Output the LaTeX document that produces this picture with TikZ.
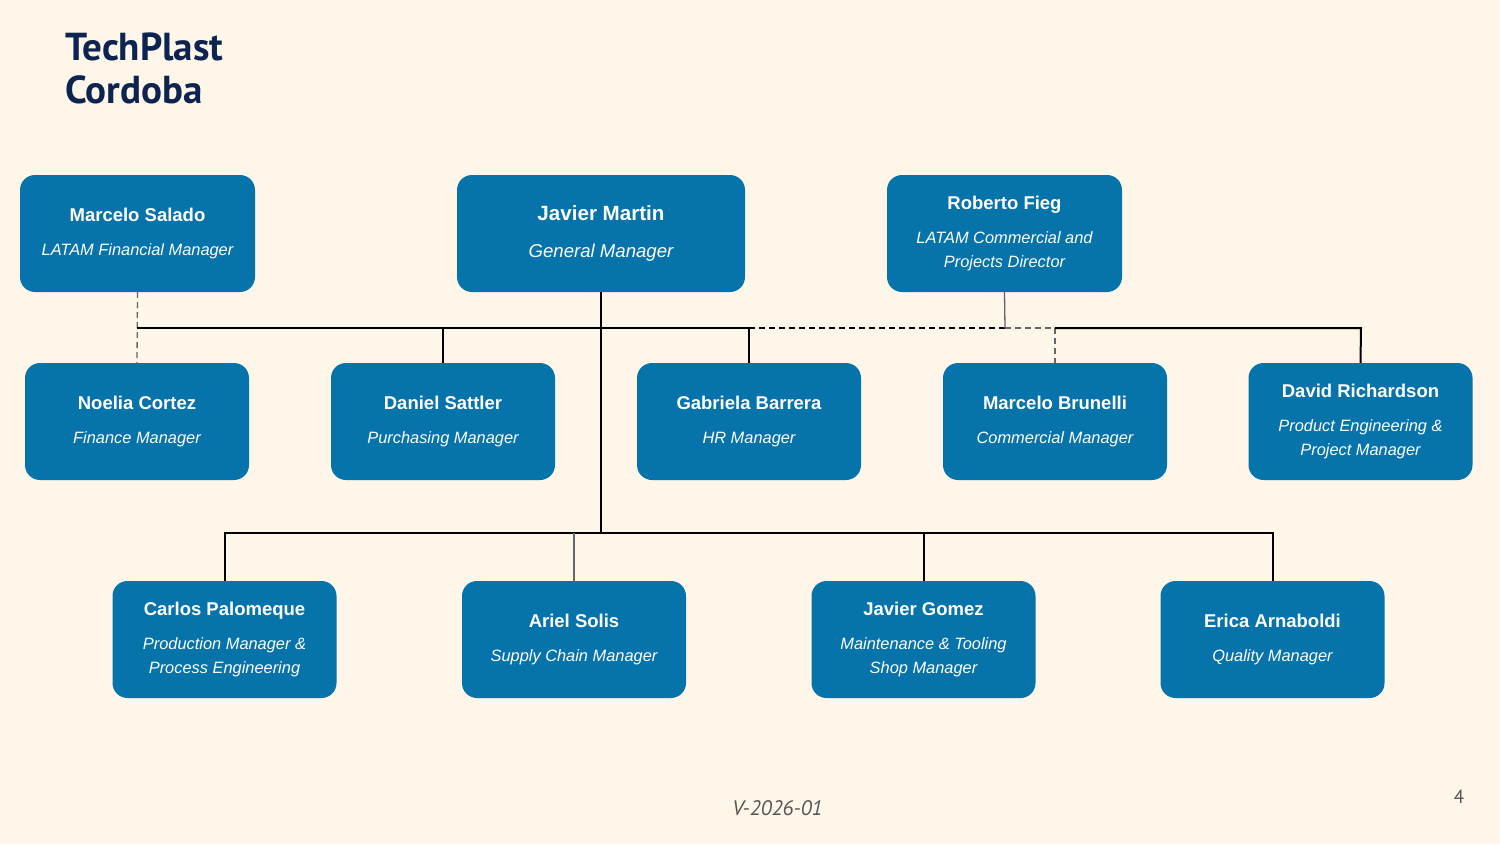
\documentclass[tikz,border=0pt]{standalone}
\usepackage{fontspec}
\setmainfont{Liberation Sans}
\newfontfamily\titlefont{PT Sans}
\definecolor{bgc}{HTML}{FDF6E9}
\definecolor{boxc}{HTML}{0673AA}
\definecolor{navy}{HTML}{0D2350}
\definecolor{footc}{HTML}{555555}
\definecolor{linegray}{HTML}{666666}
\tikzset{
  person/.style={draw=none, fill=boxc, rounded corners=15pt, inner sep=0pt,
    minimum width=224pt, minimum height=117pt, text=white, align=center,
    font=\fontsize{16.4}{24}\selectfont},
  bigperson/.style={person, minimum width=288pt, font=\fontsize{18.6}{24}\selectfont},
  solidline/.style={draw=black, line width=2pt},
  grayline/.style={draw=linegray, line width=1.3pt},
  dashline/.style={draw=black, line width=1.8pt, dash pattern=on 6pt off 4pt},
  graydash/.style={draw=linegray, line width=1.3pt, dash pattern=on 6pt off 4pt},
}
\newcommand{\nm}[1]{{\fontsize{18.5}{24}\selectfont\bfseries #1}}
\newcommand{\bignm}[1]{{\fontsize{20.6}{24}\selectfont\bfseries #1}}
\newcommand{\rl}[1]{{\itshape #1}}
\begin{document}
\begin{tikzpicture}[x=1pt,y=-1pt]
\useasboundingbox (0,0) rectangle (1500,844);
\fill[bgc] (0,0) rectangle (1500,844);

% title
\node[anchor=base west, inner sep=0pt, text=navy, font=\titlefont\bfseries\fontsize{39}{43}\selectfont, align=left] (title) at (65,103) {TechPlast\\Cordoba};

% top row
\node[person, minimum width=235pt] (salado) at (137.5,233.5) {\nm{Marcelo Salado}\\[10pt]\rl{LATAM Financial Manager}};
\node[bigperson] (martin) at (601,233.5) {\bignm{Javier Martin}\\[13pt]\rl{General Manager}};
\node[person, minimum width=235pt] (fieg) at (1004.5,233.5) {\nm{Roberto Fieg}\\[10pt]\rl{LATAM Commercial and}\\\rl{Projects Director}};

% second row
\node[person] (cortez) at (137,421.5) {\nm{Noelia Cortez}\\[10pt]\rl{Finance Manager}};
\node[person] (sattler) at (443,421.5) {\nm{Daniel Sattler}\\[10pt]\rl{Purchasing Manager}};
\node[person] (barrera) at (749,421.5) {\nm{Gabriela Barrera}\\[10pt]\rl{HR Manager}};
\node[person] (brunelli) at (1055,421.5) {\nm{Marcelo Brunelli}\\[10pt]\rl{Commercial Manager}};
\node[person] (richardson) at (1360.5,421.5) {\nm{David Richardson}\\[10pt]\rl{Product Engineering \&}\\\rl{Project Manager}};

% third row
\node[person] (palomeque) at (224.5,639.5) {\nm{Carlos Palomeque}\\[10pt]\rl{Production Manager \&}\\\rl{Process Engineering}};
\node[person] (solis) at (574,639.5) {\nm{Ariel Solis}\\[10pt]\rl{Supply Chain Manager}};
\node[person] (gomez) at (923.5,639.5) {\nm{Javier Gomez}\\[10pt]\rl{Maintenance \& Tooling}\\\rl{Shop Manager}};
\node[person] (arnaboldi) at (1272.5,639.5) {\nm{Erica Arnaboldi}\\[10pt]\rl{Quality Manager}};

% bus coordinates
\coordinate (busA) at (137,328);
\coordinate (busG) at (749,328);
\coordinate (busF) at (1005,328);
\coordinate (busB) at (1055,328);
\coordinate (busR) at (1361,328);
\coordinate (lowbus) at (601,533);

% connectors
\draw[graydash] (salado.south) -- (cortez.north);
\draw[solidline] (busA) -- (busG);
\draw[solidline] (martin.south) -- (lowbus);
\draw[solidline] (sattler.north) -- (sattler.north |- busA);
\draw[solidline] (barrera.north) -- (busG);
\draw[dashline] (busG) -- (busF);
\draw[grayline] (fieg.south) -- (busF);
\draw[graydash] (busF) -- (busB) -- (brunelli.north);
\draw[solidline] (busB) -- (busR) -- (richardson.north);

\draw[solidline] (palomeque.north) -- (palomeque.north |- lowbus) -- (arnaboldi.north |- lowbus) -- (arnaboldi.north);
\draw[solidline] (gomez.north |- lowbus) -- (gomez.north);
\draw[grayline] (solis.north |- lowbus) -- (solis.north);

% footer
\node[inner sep=0pt, text=footc, font=\titlefont\itshape\fontsize{21}{24}\selectfont] (version) at (777.5,808) {V-2026-01};
\node[inner sep=0pt, text=footc, font=\titlefont\fontsize{19}{22}\selectfont] (pagenum) at (1459,797) {4};
\end{tikzpicture}
\end{document}
